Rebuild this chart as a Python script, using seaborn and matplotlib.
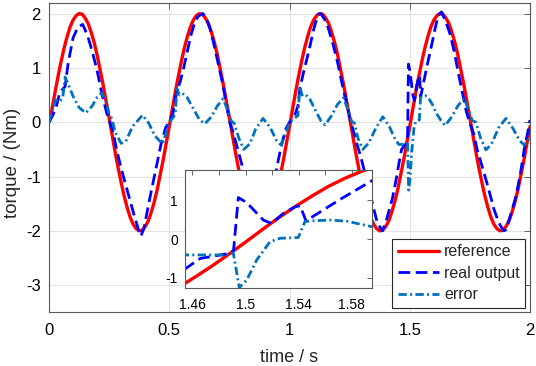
import matplotlib
matplotlib.use("Agg")
import matplotlib.pyplot as plt
import seaborn as sns
import numpy as np

# reference torque, sampled every 0.0125 s
t_ref = np.linspace(0, 2, 161)
y_ref = [0.0, 0.24, 0.55, 0.84, 1.11, 1.36, 1.57, 1.75, 1.88, 1.96,
         2.0, 1.99, 1.92, 1.82, 1.66, 1.47, 1.24, 0.97, 0.69, 0.39,
         0.08, -0.24, -0.55, -0.84, -1.11, -1.36, -1.57, -1.75, -1.88, -1.96,
         -2.0, -1.99, -1.92, -1.82, -1.66, -1.47, -1.24, -0.97, -0.69, -0.39,
         -0.08, 0.24, 0.55, 0.84, 1.11, 1.36, 1.57, 1.75, 1.88, 1.96,
         2.0, 1.99, 1.92, 1.82, 1.66, 1.47, 1.24, 0.97, 0.69, 0.39,
         0.08, -0.24, -0.55, -0.84, -1.11, -1.36, -1.57, -1.75, -1.88, -1.96,
         -2.0, -1.99, -1.92, -1.82, -1.66, -1.47, -1.24, -0.97, -0.69, -0.39,
         -0.08, 0.24, 0.55, 0.84, 1.11, 1.36, 1.57, 1.75, 1.88, 1.96,
         2.0, 1.99, 1.92, 1.82, 1.66, 1.47, 1.24, 0.97, 0.69, 0.39,
         0.08, -0.24, -0.55, -0.84, -1.11, -1.36, -1.57, -1.75, -1.88, -1.96,
         -2.0, -1.99, -1.92, -1.82, -1.66, -1.47, -1.24, -0.97, -0.69, -0.39,
         -0.08, 0.24, 0.55, 0.84, 1.11, 1.36, 1.57, 1.75, 1.88, 1.96,
         2.0, 1.99, 1.92, 1.82, 1.66, 1.47, 1.24, 0.97, 0.69, 0.39,
         0.08, -0.24, -0.55, -0.84, -1.11, -1.36, -1.57, -1.75, -1.88, -1.96,
         -2.0, -1.99, -1.92, -1.82, -1.66, -1.47, -1.24, -0.97, -0.69, -0.39,
         -0.08]

# real output
t_out = [0.0, 0.015, 0.03, 0.045, 0.06, 0.067, 0.08, 0.1, 0.12, 0.14, 0.16, 0.18, 0.2, 0.22, 0.24,
         0.255, 0.265, 0.28, 0.3, 0.325, 0.35, 0.37, 0.382, 0.395, 0.42, 0.445, 0.465, 0.485,
         0.5, 0.515, 0.53, 0.545, 0.56, 0.575, 0.59, 0.605, 0.62, 0.64, 0.655, 0.67, 0.685, 0.7,
         0.72, 0.735, 0.75, 0.765, 0.78, 0.8, 0.82, 0.845, 0.865, 0.885, 0.9, 0.92, 0.945, 0.965, 0.985,
         1.0, 1.02, 1.035, 1.043, 1.06, 1.08, 1.1, 1.118, 1.13, 1.145, 1.16, 1.18, 1.2, 1.22, 1.24,
         1.255, 1.265, 1.28, 1.296, 1.32, 1.345, 1.365, 1.386, 1.4, 1.428, 1.445, 1.455, 1.466,
         1.488, 1.491, 1.4946, 1.5009, 1.5134, 1.5197, 1.5284, 1.5372, 1.541, 1.5455, 1.571, 1.5949,
         1.6, 1.617, 1.632, 1.65, 1.667, 1.685, 1.7, 1.72, 1.735, 1.75, 1.765, 1.78, 1.8, 1.817,
         1.835, 1.85, 1.87, 1.89, 1.9, 1.92, 1.942, 1.96, 1.976, 1.99, 2.0]
y_out = [0.0, 0.12, 0.28, 0.55, 0.62, 0.66, 1.1, 1.55, 1.75, 1.8, 1.6, 1.3, 0.95, 0.52, 0.17,
         -0.03, -0.15, -0.48, -0.85, -1.25, -1.65, -1.95, -2.1, -1.95, -1.38, -0.85, -0.42, -0.1,
         0.0, 0.15, 0.55, 0.74, 1.0, 1.3, 1.6, 1.82, 1.95, 2.0, 1.9, 1.72, 1.45, 1.15,
         0.75, 0.4, 0.02, -0.18, -0.42, -0.75, -1.1, -1.55, -1.88, -2.05, -1.9, -1.4, -0.88, -0.45, -0.12,
         0.0, 0.1, 0.3, 0.62, 0.95, 1.3, 1.7, 1.98, 2.0, 1.9, 1.75, 1.45, 1.1, 0.68, 0.3,
         0.0, -0.15, -0.4, -0.63, -1.05, -1.5, -1.85, -2.0, -1.85, -1.4, -1.02, -0.76, -0.5,
         -0.37, -0.3, 1.07, 0.94, 0.49, 0.4, 0.66, 0.83, 0.86, 0.47, 1.02, 1.5,
         1.62, 1.95, 2.03, 1.85, 1.63, 1.3, 0.95, 0.52, 0.2, -0.02, -0.2, -0.5, -0.8, -1.06,
         -1.35, -1.6, -1.85, -2.0, -1.98, -1.7, -1.36, -0.95, -0.5, -0.2, 0.04]

# tracking error
t_err = [0.0, 0.015, 0.028, 0.045, 0.057, 0.067, 0.08, 0.1, 0.125, 0.153, 0.18, 0.2, 0.218, 0.235,
         0.25, 0.262, 0.275, 0.3, 0.32, 0.347, 0.389, 0.415, 0.44, 0.472, 0.49,
         0.5, 0.515, 0.525, 0.532, 0.542, 0.555, 0.575, 0.6, 0.625, 0.648, 0.675, 0.7, 0.724, 0.745,
         0.758, 0.77, 0.79, 0.81, 0.835, 0.86, 0.89, 0.92, 0.945, 0.965, 0.985,
         1.0, 1.02, 1.035, 1.043, 1.052, 1.065, 1.085, 1.11, 1.13, 1.148, 1.175, 1.2, 1.225, 1.245,
         1.258, 1.27, 1.285, 1.305, 1.33, 1.36, 1.388, 1.415, 1.44, 1.4545, 1.4883, 1.4908, 1.4953,
         1.5009, 1.5084, 1.5184, 1.526, 1.5397, 1.5447, 1.551, 1.5635, 1.576, 1.5949,
         1.61, 1.63, 1.647, 1.675, 1.7, 1.726, 1.745, 1.76, 1.775, 1.795, 1.817, 1.84, 1.87, 1.9,
         1.93, 1.955, 1.976, 1.99, 2.0]
y_err = [0.0, 0.25, 0.41, 0.38, 0.45, 0.83, 0.7, 0.48, 0.27, 0.17, 0.3, 0.46, 0.54, 0.42,
         0.15, 0.06, -0.18, -0.39, -0.35, -0.08, 0.13, -0.02, -0.25, -0.4, -0.15,
         0.0, 0.08, 0.15, 0.62, 0.5, 0.53, 0.45, 0.25, 0.05, -0.03, 0.1, 0.3, 0.43, 0.2,
         0.02, -0.02, -0.3, -0.5, -0.4, -0.12, 0.07, -0.1, -0.33, -0.42, -0.2,
         0.0, 0.07, 0.12, 0.65, 0.5, 0.52, 0.42, 0.2, 0.03, -0.05, 0.12, 0.33, 0.45, 0.2,
         0.02, -0.02, -0.3, -0.5, -0.38, -0.1, 0.1, -0.08, -0.32, -0.41, -0.41, -0.35, -1.25,
         -1.06, -0.54, -0.07, 0.02, 0.04, 0.45, 0.47, 0.49, 0.46, 0.32,
         0.17, 0.03, -0.06, 0.1, 0.3, 0.44, 0.22, 0.03, 0.0, -0.3, -0.51, -0.4, -0.1, 0.07,
         -0.12, -0.33, -0.42, -0.35, -0.26]

series = [
    ("reference", t_ref, y_ref, "#ff0000", "-", 2.4),
    ("real output", t_out, y_out, "#0000ff", (0, (4.2, 2.0)), 2.0),
    ("error", t_err, y_err, "#0072bd", (0, (3.0, 1.2, 0.7, 1.2)), 2.0),
]

sns.set_style("white")
plt.rcParams["font.family"] = ["Liberation Sans", "DejaVu Sans"]
plt.rcParams["axes.unicode_minus"] = False

fig = plt.figure(figsize=(5.36, 3.66), dpi=100)
ax = fig.add_axes([49 / 536, 1 - 312.3 / 366, 481 / 536, 309.6 / 366])

for name, t, y, col, ls, lw in series:
    sns.lineplot(x=t, y=y, ax=ax, color=col, linestyle=ls, linewidth=lw,
                 label=name, estimator=None, sort=False)

ax.set_xlim(0, 2)
ax.set_ylim(-3.5, 2.2)
ax.set_xticks([0, 0.5, 1, 1.5, 2])
ax.set_xticklabels(["0", "0.5", "1", "1.5", "2"])
ax.set_yticks([-3, -2, -1, 0, 1, 2])
ax.grid(True, color="#e3e3e3", linewidth=0.8)
ax.set_axisbelow(True)
for s in ax.spines.values():
    s.set_color("0.35")
    s.set_linewidth(0.8)
ax.tick_params(direction="in", top=True, right=True, length=4, width=0.6,
               color="0.3", labelsize=12, labelcolor="black")
ax.tick_params(axis="x", pad=8)
ax.tick_params(axis="y", pad=6)
ax.set_xlabel("time / s", fontsize=13, va="baseline")
ax.set_ylabel("torque / (Nm)", fontsize=13.5)
ax.xaxis.set_label_coords(0.499, -(362 - 312.3) / 309.6)
ax.yaxis.set_label_coords(-(49 - 21) / 481, 0.482)

handles, labels = ax.get_legend_handles_labels()
leg = ax.legend(handles, labels, loc="lower right",
                bbox_to_anchor=(525.3 / 536, 1 - 307.7 / 366), bbox_transform=fig.transFigure,
                borderaxespad=0, fontsize=11.5, handlelength=2.6, handletextpad=0.3,
                labelspacing=0.4, fancybox=False, framealpha=1, edgecolor="0.15",
                borderpad=0.35)
leg.get_frame().set_linewidth(0.8)

# zoomed inset around t = 1.5 s
ins = fig.add_axes([185 / 536, 1 - 288.3 / 366, 186.7 / 536, 118.3 / 366])
ins.set_facecolor("white")
for name, t, y, col, ls, lw in series:
    sns.lineplot(x=t, y=y, ax=ins, color=col, linestyle=ls, linewidth=lw,
                 estimator=None, sort=False, legend=False)
ins.set_xlim(1.4545, 1.5949)
ins.set_ylim(-1.27, 1.78)
ins.set_xticks([1.46, 1.5, 1.54, 1.58])
ins.set_xticklabels(["1.46", "1.5", "1.54", "1.58"])
ins.set_xticks([1.48, 1.52, 1.56], minor=True)
ins.set_yticks([-1, 0, 1])
ins.grid(False)
for s in ins.spines.values():
    s.set_color("0.35")
    s.set_linewidth(0.8)
ins.tick_params(which="both", direction="in", top=True, right=True, length=3.5, width=0.6,
                color="0.3", labelsize=10, labelcolor="black")
ins.tick_params(axis="x", pad=7)
ins.tick_params(axis="y", pad=5)
ins.set_xlabel("")
ins.set_ylabel("")

fig.savefig("out.png", dpi=100)
